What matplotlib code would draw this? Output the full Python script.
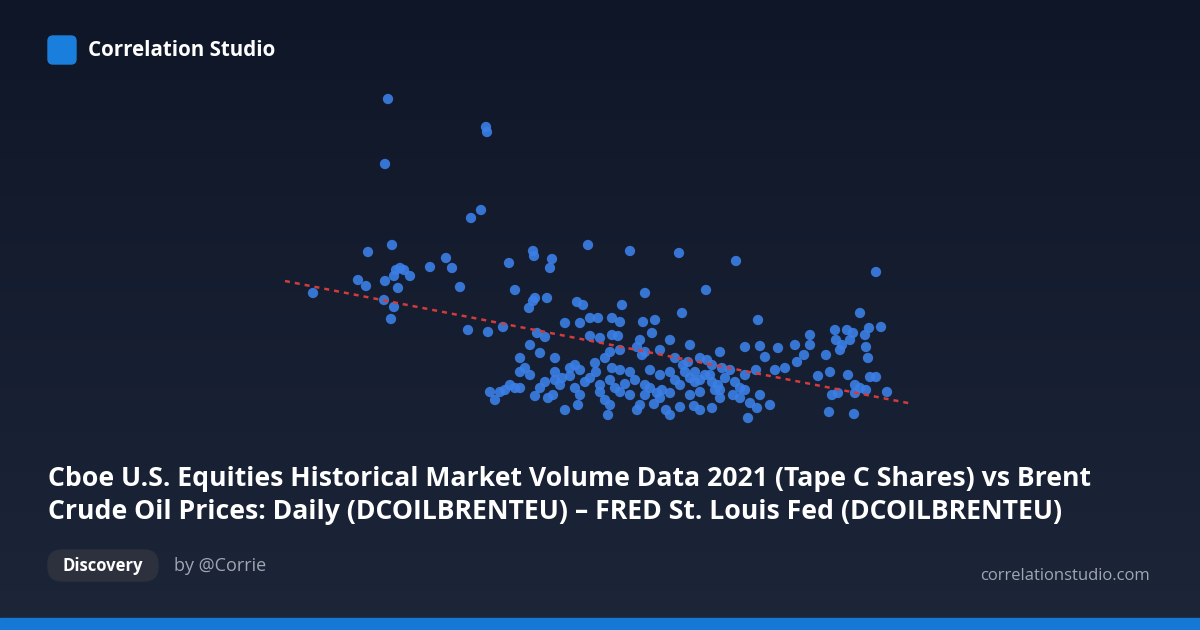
import numpy as np
import matplotlib
matplotlib.use("Agg")
import matplotlib.pyplot as plt
from matplotlib.patches import FancyBboxPatch, Rectangle
from matplotlib.colors import LinearSegmentedColormap

# Estimated readings (relative units: x = equities volume, y = Brent price, inverted scale)
vol = [388,486,487,385,471,481,392,368,313,358,366,385,396,400,404,394,398,410,430,446,452,460,384,394,391,468,488,503,509,533,534,552,550,588,630,679,736,876,515,535,547,533,529,577,583,622,645,706,580,565,590,598,612,620,643,655,682,758,860,869,881,835,847,853,810,590,600,612,618,640,652,545,530,520,525,540,555,575,580,595,605,610,620,637,645,660,690,700,720,745,760,765,778,795,810,826,836,842,850,866,868,797,804,675,683,688,707,712,722,730,745,756,775,785,818,830,848,870,876,860,887,866,855,838,832,829,854,770,757,750,740,733,748,720,712,700,694,680,666,670,654,640,637,608,610,605,578,565,553,548,535,520,510,500,495,490,505,515,540,555,562,570,585,590,600,610,615,620,625,630,645,650,657,662,670,675,680,690,695,700,705,712,718,725,735,740,760,745,620,630,650,660,670,685,695,710,715,700,690,660,645,635,560,575,580,600,596,612,520,530,545,555,570,537,642,670,720,855,840,865]
price = [99,127,132,164,218,210,245,252,293,280,286,281,270,268,270,276,288,276,267,258,268,287,300,307,319,330,332,327,263,251,256,259,268,245,251,253,261,272,290,298,298,301,308,302,305,305,293,290,323,323,318,318,318,322,322,320,313,320,313,328,327,330,330,333,335,336,338,335,336,340,333,337,345,358,368,353,358,365,370,363,358,352,350,347,352,350,345,358,352,347,346,357,348,345,345,355,340,345,340,347,358,362,355,358,365,362,360,365,368,370,375,370,370,368,376,372,375,377,377,388,392,390,393,393,395,412,414,405,408,403,398,395,418,398,408,410,406,407,410,415,404,405,410,415,405,400,405,410,395,398,396,388,385,392,400,392,390,388,388,380,378,376,382,378,385,380,388,392,384,395,395,388,393,390,393,380,385,378,382,380,375,382,385,378,382,388,395,390,370,372,370,375,372,372,372,375,390,392,395,398,385,380,385,388,395,392,372,368,372,375,382,372,368,333,355,340,390,385,350,335]

W, H = 1200, 630
fig = plt.figure(figsize=(W/100, H/100), dpi=100)
bg = fig.add_axes([0, 0, 1, 1])
bg.set_axis_off()
grad = np.linspace(0, 1, 256).reshape(-1, 1)
cmap = LinearSegmentedColormap.from_list("g", ["#0f1628", "#1c2638"])
bg.imshow(grad, cmap=cmap, aspect="auto", extent=[0, W, H, 0])
bg.set_xlim(0, W); bg.set_ylim(H, 0)
bg.add_patch(Rectangle((0, 618), W, 12, color="#1478d4"))
bg.add_patch(FancyBboxPatch((48, 36), 28, 28, boxstyle="round,pad=0,rounding_size=5", color="#1a7fdc"))
bg.text(88, 51, "Correlation Studio", color="white", fontsize=14.8, fontweight="bold", va="center", family="Open Sans")
bg.text(48, 479, "Cboe U.S. Equities Historical Market Volume Data 2021 (Tape C Shares) vs Brent", color="white", fontsize=19.2, fontweight="bold", va="center", family="Open Sans")
bg.text(48, 512, "Crude Oil Prices: Daily (DCOILBRENTEU) – FRED St. Louis Fed (DCOILBRENTEU)", color="white", fontsize=19.2, fontweight="bold", va="center", family="Open Sans")
bg.add_patch(FancyBboxPatch((48, 550), 110, 31, boxstyle="round,pad=0,rounding_size=14", color="#2d313d"))
bg.text(103, 566, "Discovery", color="white", fontsize=12, fontweight="bold", va="center", ha="center", family="Open Sans")
bg.text(174, 566, "by @Corrie", color="#a0a6b2", fontsize=13, va="center", family="Open Sans")
bg.text(1150, 576, "correlationstudio.com", color="#a0a6b2", fontsize=12, va="center", ha="right", family="Open Sans")

ax = fig.add_axes([0, 0, 1, 1])
ax.set_axis_off()
ax.patch.set_alpha(0)
ax.set_xlim(0, W); ax.set_ylim(H, 0)
x = np.array(vol, float); y = np.array(price, float)
ax.scatter(x, y, s=55, color="#3b7fe6", alpha=0.9, edgecolors="none", zorder=3)
xs = np.array([285, 913])
ax.plot(xs, 281 + (xs - 285) * (404 - 281) / (913 - 285), ls=(0, (2, 2)), color="#d23c3c", lw=1.8, zorder=4)
fig.savefig("out.png", dpi=100)
